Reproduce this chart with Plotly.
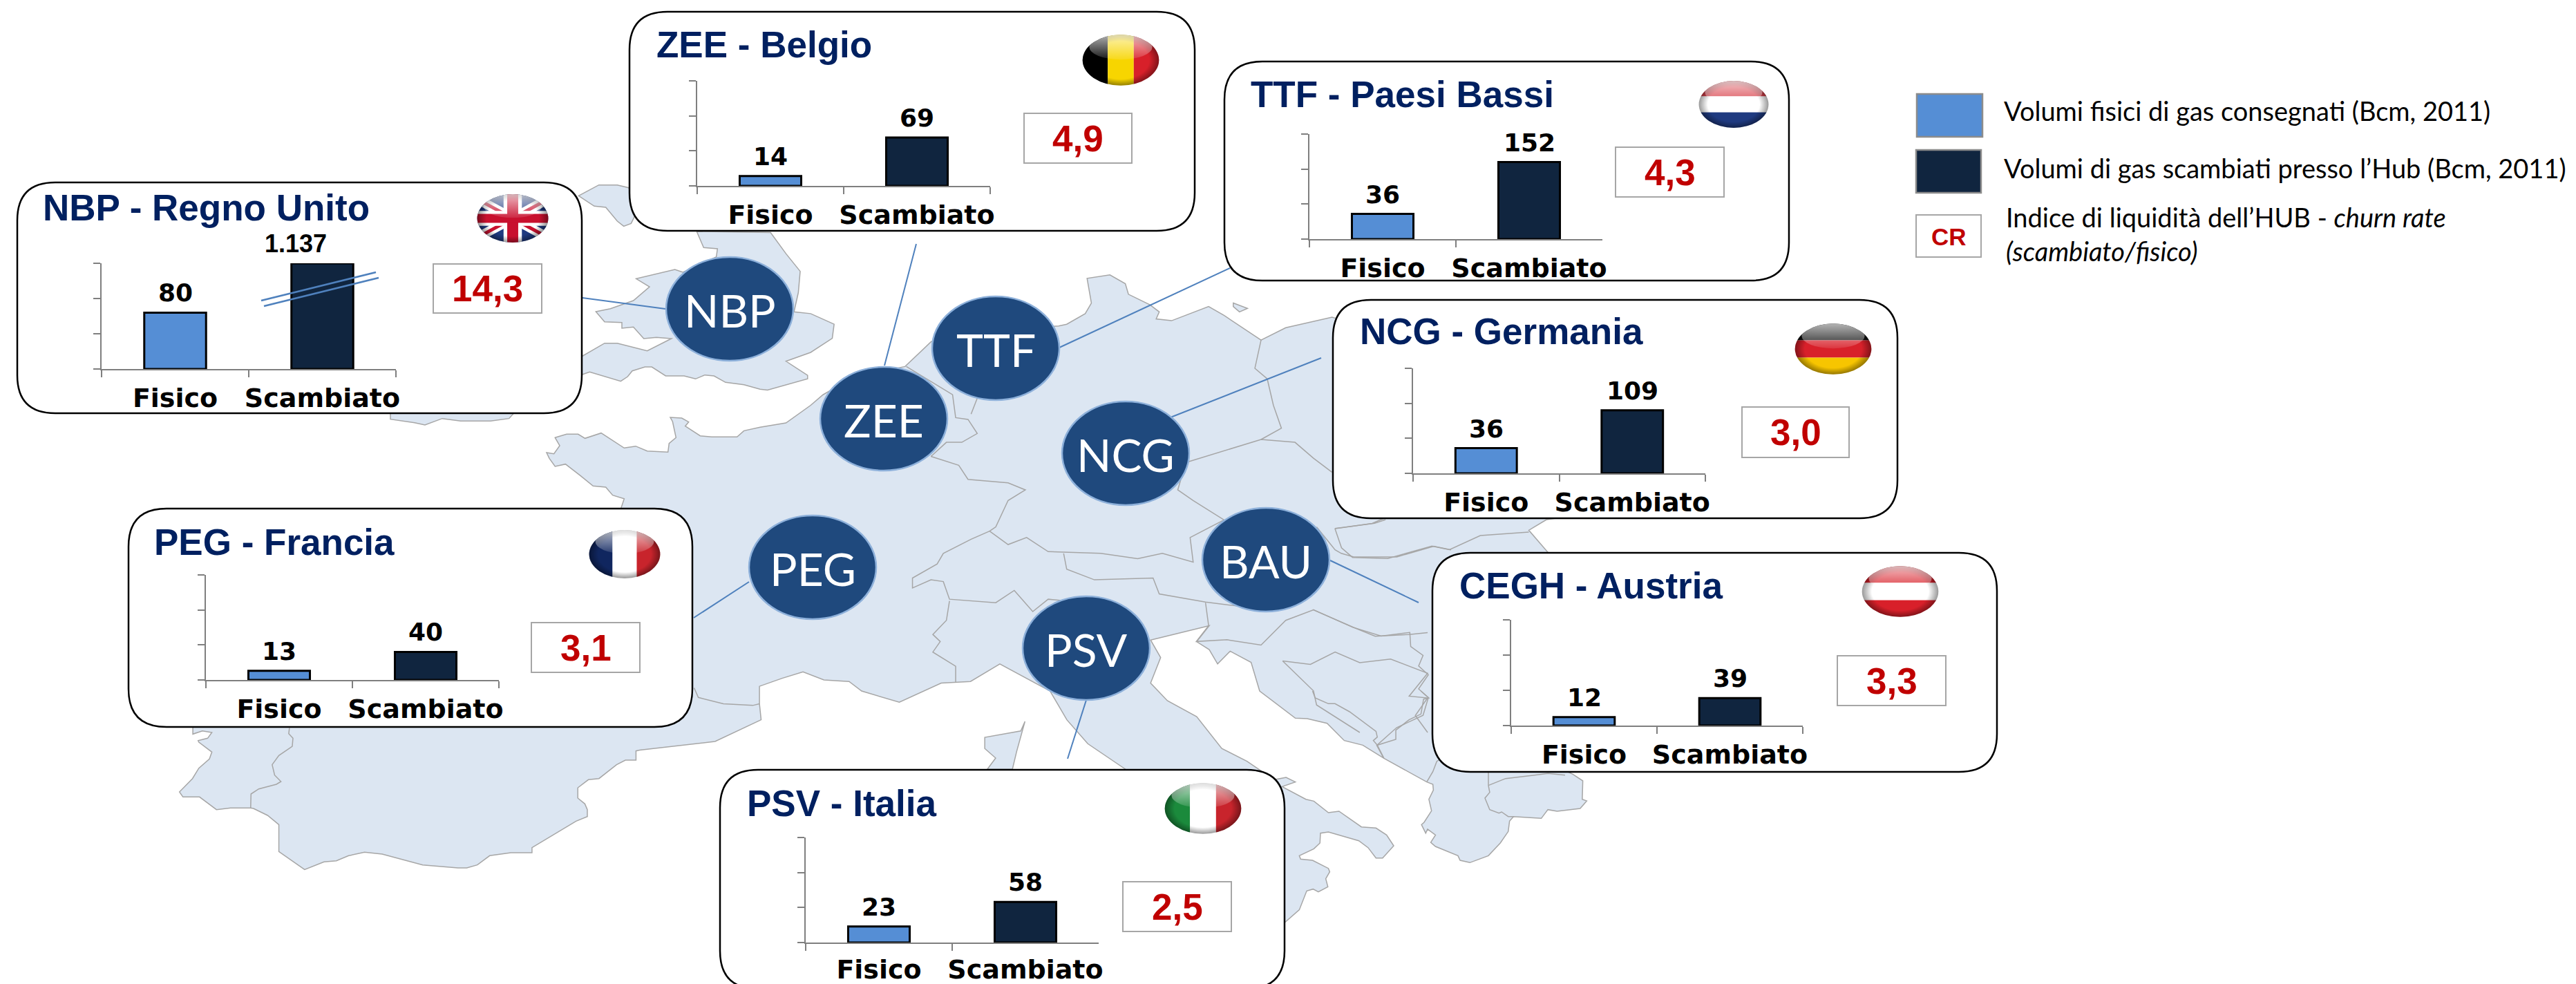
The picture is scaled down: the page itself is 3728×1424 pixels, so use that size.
import base64
import plotly.graph_objects as go

# ---------- data ----------
hubs = ["NBP", "ZEE", "TTF", "NCG", "PEG", "CEGH", "PSV"]
countries = ["Regno Unito", "Belgio", "Paesi Bassi", "Germania", "Francia", "Austria", "Italia"]
categories = ["Fisico", "Scambiato"]
fisico = [80, 14, 36, 36, 13, 12, 23]
scambiato_labels = ["1.137", "69", "152", "109", "40", "39", "58"]
scambiato_bar_height = [150, 69, 110, 90, 40, 39, 58]  # drawn heights (bars are not to scale)
churn_rate = ["14,3", "4,9", "4,3", "3,0", "3,1", "3,3", "2,5"]
y_axis_ticks = [0, 50, 100, 150]
bubble_labels = ["NBP", "ZEE", "TTF", "NCG", "PEG", "BAU", "PSV"]
legend_labels = ["Volumi fisici di gas consegnati (Bcm, 2011)",
                 "Volumi di gas scambiati presso l’Hub (Bcm, 2011)",
                 "Indice di liquidità dell’HUB - <i>churn rate</i><br><i>(scambiato/fisico)</i>"]

# ---------- layout (pixels of the 3728x1424 page) ----------
W, H = 3728, 1424
BLUE, NAVY, TITLE, RED = "#558ED5", "#10253F", "#002060", "#C00000"
px = lambda x: x / W
py = lambda y: 1 - y / H

# panel box, axis box, CR box, flag centre + radii, title left + baseline
PANELS = {
    "NBP":  dict(box=(25, 264, 842, 598),   ax=(147, 381, 573, 534),   cr=(627, 382, 784, 453),   flag=(742, 316, 53, 36),  title=(65, 318)),
    "ZEE":  dict(box=(911, 17, 1729, 334),  ax=(1009, 117, 1433, 269), cr=(1482, 164, 1638, 236), flag=(1622, 87, 57, 38),  title=(953, 83)),
    "TTF":  dict(box=(1772, 89, 2589, 406), ax=(1895, 194, 2319, 346), cr=(2338, 213, 2495, 285), flag=(2509, 151, 52, 35), title=(1813, 155)),
    "NCG":  dict(box=(1929, 434, 2746, 750), ax=(2045, 533, 2468, 685), cr=(2521, 589, 2676, 662), flag=(2653, 505, 57, 38), title=(1971, 498)),
    "PEG":  dict(box=(186, 736, 1002, 1052), ax=(298, 832, 722, 984),  cr=(769, 901, 926, 973),   flag=(904, 802, 53, 36),  title=(226, 802)),
    "CEGH": dict(box=(2073, 800, 2890, 1117), ax=(2187, 897, 2609, 1050), cr=(2659, 949, 2816, 1021), flag=(2750, 856, 57, 38), title=(2115, 865)),
    "PSV":  dict(box=(1042, 1114, 1859, 1431), ax=(1166, 1212, 1590, 1364), cr=(1625, 1276, 1782, 1348), flag=(1741, 1170, 57, 38), title=(1084, 1180)),
}
BUBBLES = [(1056, 447), (1279, 606), (1441, 504), (1629, 656), (1176, 821), (1832, 810), (1572, 938)]
CONNECTORS = [(843, 431, 963, 447), (1280, 529, 1326, 353), (1533, 503, 1780, 388), (1694, 604, 1912, 518),
              (1084, 842, 1004, 894), (1925, 811, 2053, 872), (1573, 1010, 1545, 1098)]

# ---------- coordinate helpers for the background map ----------
z3 = lambda pts: [(700 + a / 1.12, 260 + b / 1.96) for a, b in pts]
z4 = lambda pts: [(150 + a / .825, 700 + b / 2.166) for a, b in pts]
z5 = lambda pts: [(1900 + a / 1.568, 400 + b / 1.96) for a, b in pts]
z8 = lambda pts: [(1800 + a / 2.613, 1000 + b / 3) for a, b in pts]
z9 = lambda pts: [(150 + a / 1.96, 1000 + b / 3) for a, b in pts]
z10 = lambda pts: [(600 + a / 3, 240 + b / 3) for a, b in pts]

continent = (
    z10([(610,1180),(660,1165),(710,1165),(740,1183),(810,1160),(910,1225),(960,1217),(1010,1238),(1100,1243),(1105,1205),(1135,1180),(1120,1110),(1110,1092),(1160,1095),(1190,1112),(1175,1130),(1240,1172),(1290,1177),(1400,1177),(1430,1150),(1500,1135)])
    + z3([(490,690),(530,640),(550,610),(600,560),(683,530),(725,460),(760,430),(932,415),(945,410),(975,380),(985,350),(978,280),(1015,270),(1040,295),(1045,325),(1080,355),(1095,375),(1090,395),(1115,400),(1175,360),(1200,385),(1260,455),(1300,420),(1375,390)])
    + [(2000, 480), (2600, 700)]
    + z5([(530,690),(490,720),(535,785)])
    + [(2300, 1000)]
    + z8([(1215,345),(1245,362),(1282,390),(1280,470),(1297,477),(1272,510),(1185,522),(1150,515),(1125,553),(1020,545),(1005,565),(1000,610),(970,660),(925,715),(855,745),(818,735),(810,715),(725,675),(707,657),(725,625),(695,600),(688,617),(672,580),(682,570),(710,520),(700,470),(717,430),(715,405),(692,395),(530,292),(450,235),(380,215),(315,140),(240,120),(195,118),(60,0)])
    + z4([(1370,560),(1345,525),(1330,565),(1320,520),(1305,495),(1320,445),(1250,490),(1262,545),(1250,625),(1270,680),(1305,730),(1335,830),(1365,870)])
    + z8([(115,385),(160,375),(195,395),(145,415),(235,470),(265,478),(320,528),(360,522),(445,590),(500,595),(540,625),(567,672),(525,725),(500,725),(470,680),(435,650),(320,612),(290,617),(288,660),(265,685),(210,715),(215,730),(260,735),(320,770),(325,785),(310,815),(318,850),(282,872),(262,860),(238,868),(210,950),(155,1005)])
    + [(1700, 1200)]
    + z4([(1220,895),(1175,815),(1150,740),(1130,650),(1070,565),(1035,620),(1000,625),(950,685),(905,650),(890,620),(860,615),(835,590),(810,610),(783,635),(783,690),(785,740),(730,808),(640,835)])
    + z9([(1510,260),(1510,300),(1480,300),(1455,320),(1405,380),(1375,385),(1345,420),(1345,465),(1365,490),(1372,515),(1372,545),(1340,565),(1215,680),(1215,702),(1155,702),(1095,715),(1060,755),(1030,768),(1005,768),(905,755),(790,708),(740,700),(695,715),(660,737),(625,742),(570,775),(497,697),(497,580),(465,540),(425,510),(417,508),(360,508),(320,515),(272,460),(225,460),(215,438),(252,380),(270,335),(300,295),(307,265),(270,222),(268,215),(295,205),(307,180),(280,173),(253,187),(253,158)])
    + [(300, 1000), (880, 760)]
    + z10([(895,1490),(910,1445),(860,1430),(830,1395),(775,1390),(720,1345),(655,1295),(610,1305),(585,1270),(573,1245),(605,1250),(630,1215)])
)
britain = (
    z10([(1225,285)])
    + z3([(465,150),(490,210),(513,260),(510,320),(503,375),(530,380),(568,410),(565,450),(530,490),(490,515),(525,555),(525,565),(460,597)])
    + z10([(1500,970),(1430,950),(1350,940),(1300,912),(1260,908),(1220,925),(1170,912),(1090,912),(1030,873),(1000,873),(945,890),(925,915),(895,935),(760,895),(730,905),(690,930),(690,850),(730,825),(825,770),(880,770),(1010,803),(1115,750),(1050,745),(995,750),(950,700),(900,705),(900,680),(825,677),(787,633),(850,620),(950,585),(1020,525),(962,490),(1130,450),(1165,462),(1310,395),(1315,360),(1255,355)])
)
north_piece = z10([(712,130),(800,83),(880,83),(930,95),(965,200),(940,250),(908,262),(880,240),(830,180),(780,175)])
ireland_south = z10([(430,1075),(410,1097),(330,1108),(200,1108),(120,1097),(45,1125),(0,1115),(-105,1100),(-105,1050),(430,1050)])
corsica = z4([(1100,745),(1095,775),(1052,795),(1052,830),(1065,860),(1055,895),(1085,895),(1090,840)])
islet = z3([(1215,350),(1238,365),(1225,375),(1215,360)])
land = [continent, britain, north_piece, ireland_south, corsica, islet]

borders = [
    z3([(725,785),(770,810),(785,850),(850,860),(878,880),(850,910),(830,985),(820,997)]),
    z3([(820,997),(790,1020),(745,1060),(735,1090),(695,1130),(695,1158),(725,1135),(745,1140),(755,1190),(830,1200),(860,1165),(890,1225),(915,1190),(945,1195)]),
    z3([(755,1195),(750,1250),(728,1290),(740,1310),(728,1340),(765,1380),(765,1425)]),
    z3([(820,997),(850,1035),(880,1015),(915,1055),(1000,1060),(1060,1075),(1100,1060),(1150,1085),(1145,1015),(1200,965),(1150,910),(1125,880),(1130,850)]),
    z3([(1142,800),(1260,737),(1315,745),(1345,790),(1375,830)]),
    z3([(1260,455),(1250,535),(1270,565),(1280,640),(1293,705),(1260,737)]),
    z3([(940,1060),(945,1105),(990,1135),(1085,1130),(1095,1175),(1170,1198),(1225,1210)]),
    z3([(1170,1200),(1175,1265),(1155,1310),(1205,1305),(1260,1320),(1300,1250),(1345,1220),(1410,1270),(1445,1295),(1500,1290),(1530,1285)]),
    z3([(1295,1365),(1340,1375),(1380,1340),(1420,1370),(1470,1360),(1530,1400),(1500,1465),(1530,1470),(1510,1520),(1530,1568)]),
    z3([(1295,1365),(1345,1450),(1350,1490),(1420,1568)]),
    z3([(1350,985),(1380,1050),(1390,1060),(1410,1070),(1480,1070),(1540,1040),(1568,1050)]),
    z3([(1380,990),(1440,975),(1460,960)]),
    z3([(685,530),(760,610),(765,675),(785,680),(800,720),(775,745),(750,745),(725,785)]),
    z3([(800,620),(790,665)]),
    z9([(527,160),(525,185),(537,205),(535,240),(497,280),(478,320),(485,365),(503,393),(490,405),(440,425),(418,447),(417,508)]),
    z4([(705,640),(710,670),(740,690),(775,695),(783,690)]),
    z5([(0,945),(90,995),(155,1020),(220,1010),(222,1050),(250,1075),(240,1105),(262,1130),(240,1170),(262,1195),(250,1245),(190,1280),(145,1330),(160,1365)]),
    z5([(50,715),(65,770),(90,797),(170,800),(270,765),(310,775),(380,735),(490,725)]),
    z5([(50,715),(140,700),(165,690)]),
    z8([(692,395),(715,350),(730,305),(745,295)]),
    z8([(925,410),(990,380),(1100,365),(1150,358),(1215,365)]),
    z8([(925,410),(925,350)]),
    z8([(925,410),(930,440),(912,465),(930,515),(965,530),(975,525),(1000,545),(1020,545)]),
    z8([(260,0),(270,30),(320,55),(345,55),(400,90),(500,175),(505,200),(490,215),(505,235),(575,210),(575,170),(625,125),(670,100),(680,35),(700,30),(670,0)]),
    z8([(505,235),(530,292)]),
]


def path_of(points, close=True):
    s = "M" + " L".join(f"{px(x):.6f},{py(y):.6f}" for x, y in points)
    return s + (" Z" if close else "")


def rounded(x0, y0, x1, y1, r=55):
    p = lambda x, y: f"{px(x):.6f},{py(y):.6f}"
    return (f"M{p(x0 + r, y0)} L{p(x1 - r, y0)} Q{p(x1, y0)} {p(x1, y0 + r)} L{p(x1, y1 - r)} Q{p(x1, y1)} {p(x1 - r, y1)} "
            f"L{p(x0 + r, y1)} Q{p(x0, y1)} {p(x0, y1 - r)} L{p(x0, y0 + r)} Q{p(x0, y0)} {p(x0 + r, y0)} Z")


def rect(x0, y0, x1, y1, **kw):
    return dict(type="rect", xref="paper", yref="paper", x0=px(x0), x1=px(x1), y0=py(y1), y1=py(y0), layer="below", **kw)


def flag_image(name, cx, cy, rx, ry):
    bars = {
        "NBP": '<rect width="200" height="200" fill="#1F3A80"/>'
               '<path d="M0 20 L200 180 M0 180 L200 20" stroke="#fff" stroke-width="34"/>'
               '<path d="M0 20 L200 180 M0 180 L200 20" stroke="#C8102E" stroke-width="12"/>'
               '<rect x="75" width="50" height="200" fill="#fff"/><rect y="70" width="200" height="60" fill="#fff"/>'
               '<rect x="85" width="30" height="200" fill="#C8102E"/><rect y="82" width="200" height="36" fill="#C8102E"/>',
        "ZEE": '<rect width="67" height="200" fill="#000"/><rect x="67" width="66" height="200" fill="#F7D500"/><rect x="133" width="67" height="200" fill="#D8202A"/>',
        "TTF": '<rect width="200" height="67" fill="#D8404A"/><rect y="67" width="200" height="66" fill="#fff"/><rect y="133" width="200" height="67" fill="#1F3A80"/>',
        "NCG": '<rect width="200" height="67" fill="#111"/><rect y="67" width="200" height="66" fill="#D8202A"/><rect y="133" width="200" height="67" fill="#F7C500"/>',
        "PEG": '<rect width="67" height="200" fill="#10265F"/><rect x="67" width="66" height="200" fill="#fff"/><rect x="133" width="67" height="200" fill="#C8242C"/>',
        "CEGH": '<rect width="200" height="67" fill="#D8202A"/><rect y="67" width="200" height="66" fill="#fff"/><rect y="133" width="200" height="67" fill="#D8202A"/>',
        "PSV": '<rect width="67" height="200" fill="#1B8A3C"/><rect x="67" width="66" height="200" fill="#fff"/><rect x="133" width="67" height="200" fill="#C8242C"/>',
    }[name]
    svg = ('<svg xmlns="http://www.w3.org/2000/svg" width="400" height="400" viewBox="0 0 200 200" preserveAspectRatio="none">'
           '<defs><clipPath id="c"><circle cx="100" cy="100" r="97"/></clipPath>'
           '<radialGradient id="e"><stop offset="0.72" stop-color="#000" stop-opacity="0"/><stop offset="1" stop-color="#000" stop-opacity="0.45"/></radialGradient>'
           '<linearGradient id="g" x1="0" y1="0" x2="0" y2="1"><stop offset="0" stop-color="#fff" stop-opacity="0.7"/><stop offset="1" stop-color="#fff" stop-opacity="0.1"/></linearGradient></defs>'
           f'<g clip-path="url(#c)">{bars}<rect width="200" height="200" fill="url(#e)"/>'
           '<ellipse cx="100" cy="50" rx="80" ry="48" fill="url(#g)"/></g></svg>')
    src = "data:image/svg+xml;base64," + base64.b64encode(svg.encode()).decode()
    return dict(source=src, xref="paper", yref="paper", x=px(cx - rx), y=py(cy - ry),
                sizex=(2 * rx) / W, sizey=(2 * ry) / H, sizing="stretch", xanchor="left", yanchor="top", layer="above")


fig = go.Figure()
shapes, annotations, images = [], [], []

# map
for poly in land:
    shapes.append(dict(type="path", xref="paper", yref="paper", path=path_of(poly), layer="below",
                       fillcolor="#DCE6F2", line=dict(color="#A6A6A6", width=1.5)))
for b in borders:
    shapes.append(dict(type="path", xref="paper", yref="paper", path=path_of(b, close=False), layer="below",
                       line=dict(color="#A6A6A6", width=1.5)))
# connectors + bubbles
for x0, y0, x1, y1 in CONNECTORS:
    shapes.append(dict(type="line", xref="paper", yref="paper", x0=px(x0), y0=py(y0), x1=px(x1), y1=py(y1), layer="below",
                       line=dict(color="#4F81BD", width=2)))
for name, (cx, cy) in zip(bubble_labels, BUBBLES):
    shapes.append(dict(type="circle", xref="paper", yref="paper", x0=px(cx - 92), x1=px(cx + 92), layer="below",
                       y0=py(cy + 75), y1=py(cy - 75), fillcolor="#1F497D", line=dict(color="#8DB0DA", width=2.5)))
    annotations.append(dict(xref="paper", yref="paper", x=px(cx), y=py(cy + 1), text=name, showarrow=False,
                            xanchor="center", yanchor="middle",
                            font=dict(family="Lato, sans-serif", size=66, color="white")))

# hub panels
layout_axes = {}
for i, hub in enumerate(hubs):
    p = PANELS[hub]
    n = "" if i == 0 else str(i + 1)
    shapes.append(dict(type="path", xref="paper", yref="paper", path=rounded(*p["box"]), fillcolor="white", layer="below",
                       line=dict(color="black", width=2.5)))
    shapes.append(rect(*p["cr"], fillcolor="white", line=dict(color="#A6A6A6", width=2)))
    ax0, ay0, ax1, ay1 = p["ax"]
    heights = [fisico[i], scambiato_bar_height[i]]
    labels = [str(fisico[i]), scambiato_labels[i]]
    fig.add_trace(go.Bar(x=categories, y=heights, xaxis="x" + n, yaxis="y" + n, showlegend=False,
                         marker=dict(color=[BLUE, NAVY], line=dict(color="black", width=3)), hoverinfo="skip", cliponaxis=False))
    layout_axes["xaxis" + n] = dict(domain=[px(ax0), px(ax1)], anchor="y" + n, type="category", tickson="boundaries",
                                    ticks="outside", ticklen=10, tickwidth=2, tickcolor="#7F7F7F", tickangle=0,
                                    showline=True, linecolor="#7F7F7F", linewidth=2, showgrid=False, zeroline=False,
                                    ticklabelstandoff=4 if hub == "PSV" else 7, automargin=False,
                                    tickfont=dict(family="DejaVu Sans", size=38, color="black", weight="bold"),
                                    fixedrange=True)
    layout_axes["yaxis" + n] = dict(domain=[py(ay1), py(ay0)], anchor="x" + n, range=[0, 150], tickmode="array",
                                    tickvals=y_axis_ticks, ticktext=[""] * len(y_axis_ticks), ticks="outside",
                                    ticklen=10, tickwidth=2, tickcolor="#7F7F7F", showline=True, linecolor="#7F7F7F",
                                    linewidth=2, showgrid=False, zeroline=False, automargin=False, fixedrange=True)
    for cat, h, lab in zip(categories, heights, labels):
        broken = lab == "1.137"
        annotations.append(dict(xref="x" + n, yref="y" + n, x=cat, y=h, text=f"<b>{lab}</b>", showarrow=False,
                                xanchor="center", yanchor="bottom", yshift=6, xshift=-39 if broken else 0,
                                font=dict(family="Liberation Sans" if broken else "DejaVu Sans",
                                          size=36, color="black")))
    tx, ty = p["title"]
    annotations.append(dict(xref="paper", yref="paper", x=px(tx - 5), y=py(ty - 18), xanchor="left", yanchor="middle",
                            text=f"<b>{hub} - {countries[i]}</b>", showarrow=False,
                            font=dict(family="Liberation Sans", size=53, color=TITLE)))
    c = p["cr"]
    annotations.append(dict(xref="paper", yref="paper", x=px((c[0] + c[2]) / 2), y=py((c[1] + c[3]) / 2),
                            xanchor="center", yanchor="middle", text=f"<b>{churn_rate[i]}</b>", showarrow=False,
                            font=dict(family="Liberation Sans", size=53, color=RED)))
    images.append(flag_image(hub, *p["flag"]))

# axis-break strokes on the NBP bar
for x0, y0, x1, y1 in [(378, 435, 544, 394), (382, 443, 548, 402)]:
    shapes.append(dict(type="line", xref="paper", yref="paper", x0=px(x0), y0=py(y0), x1=px(x1), y1=py(y1),
                       layer="above", line=dict(color="#4F81BD", width=2.5)))

# legend
shapes.append(rect(2774, 136, 2869, 198, fillcolor=BLUE, line=dict(color="#8C8C8C", width=2.5)))
shapes.append(rect(2773, 217, 2867, 279, fillcolor=NAVY, line=dict(color="#8C8C8C", width=2.5)))
shapes.append(rect(2773, 311, 2867, 372, fillcolor="white", line=dict(color="#A6A6A6", width=2)))
annotations.append(dict(xref="paper", yref="paper", x=px(2820), y=py(342), text="<b>CR</b>", showarrow=False,
                        xanchor="center", yanchor="middle", font=dict(family="Liberation Sans", size=35, color=RED)))
for lab, yc, xl in zip(legend_labels, [160, 243, 338], [2898, 2898, 2901]):
    annotations.append(dict(xref="paper", yref="paper", x=px(xl), y=py(yc), text=lab, showarrow=False,
                            xanchor="left", yanchor="middle", align="left",
                            font=dict(family="Lato, sans-serif", size=38, color="black")))

fig.update_layout(width=W, height=H, autosize=False, margin=dict(l=0, r=0, t=0, b=0, pad=0),
                  paper_bgcolor="white", plot_bgcolor="rgba(0,0,0,0)", bargap=0.58, showlegend=False,
                  shapes=shapes, annotations=annotations, images=images, **layout_axes)
fig.write_html("out.html", config=dict(displayModeBar=False),
               post_script="document.body.style.margin='0';document.documentElement.style.overflow='hidden';")
